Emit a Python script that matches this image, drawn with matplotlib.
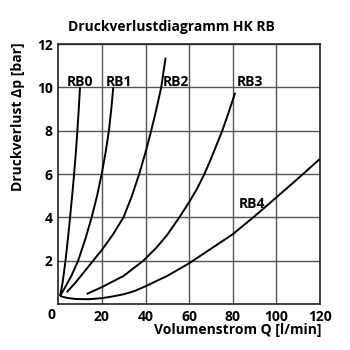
import numpy as np
import matplotlib
matplotlib.use('Agg')
import matplotlib.pyplot as plt

# values (Q in l/min, dp in bar)
rb0_q = [0.8, 2.0, 3.3, 4.4, 5.4, 6.35, 7.25, 8.05, 8.75, 9.38, 9.95]
rb0_p = [0.37, 1.0, 2.0, 3.0, 4.0, 5.0, 6.0, 7.0, 8.0, 9.0, 10.0]

rb1_q = [0.8, 3.0, 6.0, 9.1, 12.4, 15.3, 17.8, 19.9, 21.7, 23.2, 24.3, 25.2]
rb1_p = [0.37, 0.75, 1.3, 2.0, 3.0, 4.0, 5.0, 6.0, 7.0, 8.0, 9.0, 10.0]

rb2_q = [3.85, 8.0, 12.0, 16.0, 20.0, 25.0, 29.9, 33.8, 37.1, 40.0, 42.6, 45.0, 47.2, 49.2]
rb2_p = [0.54, 1.0, 1.5, 2.0, 2.5, 3.2, 4.0, 5.0, 6.0, 7.0, 8.0, 9.0, 10.0, 11.37]

rb3_q = [13, 20, 30, 39, 45, 50, 55.5, 60, 63.5, 67, 70, 72.8, 75.2, 78.3, 81.1]
rb3_p = [0.46, 0.78, 1.3, 2.0, 2.6, 3.2, 4.0, 4.7, 5.3, 6.0, 6.7, 7.4, 8.0, 8.9, 9.75]

rb4_q = [0.8, 4, 8, 14, 20, 25, 30, 35, 40, 50, 60, 70, 80, 90, 100, 110, 120]
rb4_p = [0.37, 0.28, 0.23, 0.22, 0.27, 0.35, 0.45, 0.6, 0.82, 1.3, 1.88, 2.55, 3.22, 4.05, 4.92, 5.8, 6.7]

curves = [(rb0_q, rb0_p), (rb1_q, rb1_p), (rb2_q, rb2_p), (rb3_q, rb3_p), (rb4_q, rb4_p)]

labels = ['RB0', 'RB1', 'RB2', 'RB3', 'RB4']
label_pos = [(3.8, 10.06), (21.7, 10.06), (48.0, 10.06), (82.0, 10.06), (82.8, 4.42)]

x_ticks = [20, 40, 60, 80, 100, 120]
y_ticks = [2, 4, 6, 8, 10, 12]

plt.rcParams['font.family'] = ['Open Sans', 'DejaVu Sans']
plt.rcParams['font.weight'] = 'bold'
FS = 10

fig = plt.figure(figsize=(3.5, 3.5), dpi=100)
ax = fig.add_axes([58.3 / 350, 1 - 304 / 350, (320 - 58.3) / 350, (304 - 44) / 350])

for q, p in curves:
    ax.plot(q, p, color='black', lw=1.4, solid_joinstyle='round', solid_capstyle='butt', zorder=3)

for name, (x, y) in zip(labels, label_pos):
    ax.text(x, y, name, fontsize=FS, fontweight='bold', ha='left', va='baseline', zorder=4)

ax.set_xlim(0, 120)
ax.set_ylim(0, 12)
ax.set_xticks(x_ticks)
ax.set_yticks(y_ticks)
ax.tick_params(length=0, labelsize=FS, pad=4)
for lab in ax.get_xticklabels() + ax.get_yticklabels():
    lab.set_fontweight('bold')
ax.grid(True, color='#555555', lw=1.0)
for s in ax.spines.values():
    s.set_color('#222222')
    s.set_linewidth(1.2)

fig.text(52 / 350, 1 - 315 / 350, '0', fontsize=FS, fontweight='bold', ha='center', va='center')
fig.text(171 / 350, 1 - 27.5 / 350, 'Druckverlustdiagramm HK RB', fontsize=FS, fontweight='bold',
         ha='center', va='center')
fig.text(18 / 350, 1 - 116.5 / 350, 'Druckverlust Δp [bar]', fontsize=FS, fontweight='bold',
         rotation=90, ha='center', va='center')
fig.text(322 / 350, 1 - 330 / 350, 'Volumenstrom Q [l/min]', fontsize=FS, fontweight='bold',
         ha='right', va='center')

fig.savefig('out.png', dpi=100)
